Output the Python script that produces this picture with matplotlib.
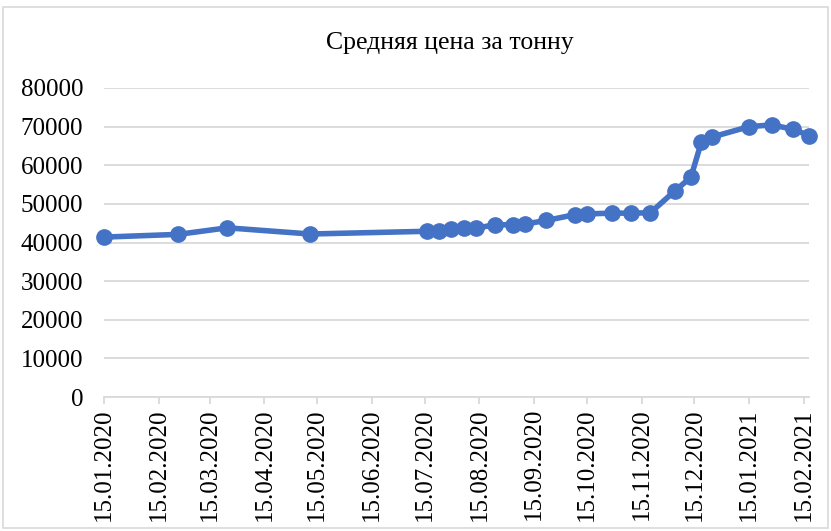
import matplotlib
matplotlib.use("Agg")
import matplotlib.pyplot as plt
import matplotlib.dates as mdates
from matplotlib.patches import Rectangle
import datetime as dt

title = "Средняя цена за тонну"
dates = ["15.01.2020", "26.02.2020", "25.03.2020", "11.05.2020", "16.07.2020",
         "23.07.2020", "30.07.2020", "06.08.2020", "13.08.2020", "24.08.2020",
         "03.09.2020", "10.09.2020", "22.09.2020", "08.10.2020", "15.10.2020",
         "29.10.2020", "09.11.2020", "20.11.2020", "04.12.2020", "13.12.2020",
         "19.12.2020", "25.12.2020", "15.01.2021", "28.01.2021", "09.02.2021",
         "18.02.2021"]
prices = [41400, 42100, 43800, 42200, 42900,
          43100, 43500, 43700, 43700, 44600,
          44600, 44800, 45700, 47200, 47400,
          47600, 47600, 47700, 53400, 56900,
          66100, 67300, 70000, 70450, 69300,
          67700]
y_ticks = [0, 10000, 20000, 30000, 40000, 50000, 60000, 70000, 80000]

x = [dt.datetime.strptime(d, "%d.%m.%Y") for d in dates]

W, H = 831, 531
fig = plt.figure(figsize=(W / 100, H / 100), dpi=100)
plt.rcParams['font.family'] = ['Liberation Serif', 'DejaVu Serif']

ax = fig.add_axes([104 / W, (H - 397) / H, (809 - 104) / W, (397 - 88) / H])

grid_c = "#D9D9D9"
ax.plot(x, prices, color="#4472C4", lw=4.0, marker="o", markersize=11,
        solid_capstyle="round", zorder=3, clip_on=False)

ax.set_ylim(0, 80000)
ax.set_yticks(y_ticks)
ax.set_xlim(dt.datetime(2020, 1, 15), x[-1])
ax.xaxis.set_major_locator(mdates.MonthLocator(bymonthday=15))
ax.xaxis.set_major_formatter(mdates.DateFormatter("%d.%m.%Y"))

ax.grid(axis="y", color=grid_c, lw=1.3)
ax.set_axisbelow(True)
for s in ["top", "right", "left"]:
    ax.spines[s].set_visible(False)
ax.spines["bottom"].set_color(grid_c)
ax.spines["bottom"].set_linewidth(1.3)
ax.tick_params(axis="y", length=0, pad=15, labelsize=18)
ax.tick_params(axis="x", length=5, width=1.3, color=grid_c, labelsize=18,
               labelrotation=90, pad=3)
for lab in ax.get_yticklabels():
    lab.set_horizontalalignment("right")

fig.text(450 / W, (H - 43) / H, title, ha="center", va="center", fontsize=18.5)

fig.patches.append(Rectangle((3 / W, 3 / H), (828 - 3) / W, (524 - 3) / H,
                             transform=fig.transFigure, fill=False,
                             edgecolor=grid_c, lw=1.2))

fig.savefig("out.png", dpi=100)
